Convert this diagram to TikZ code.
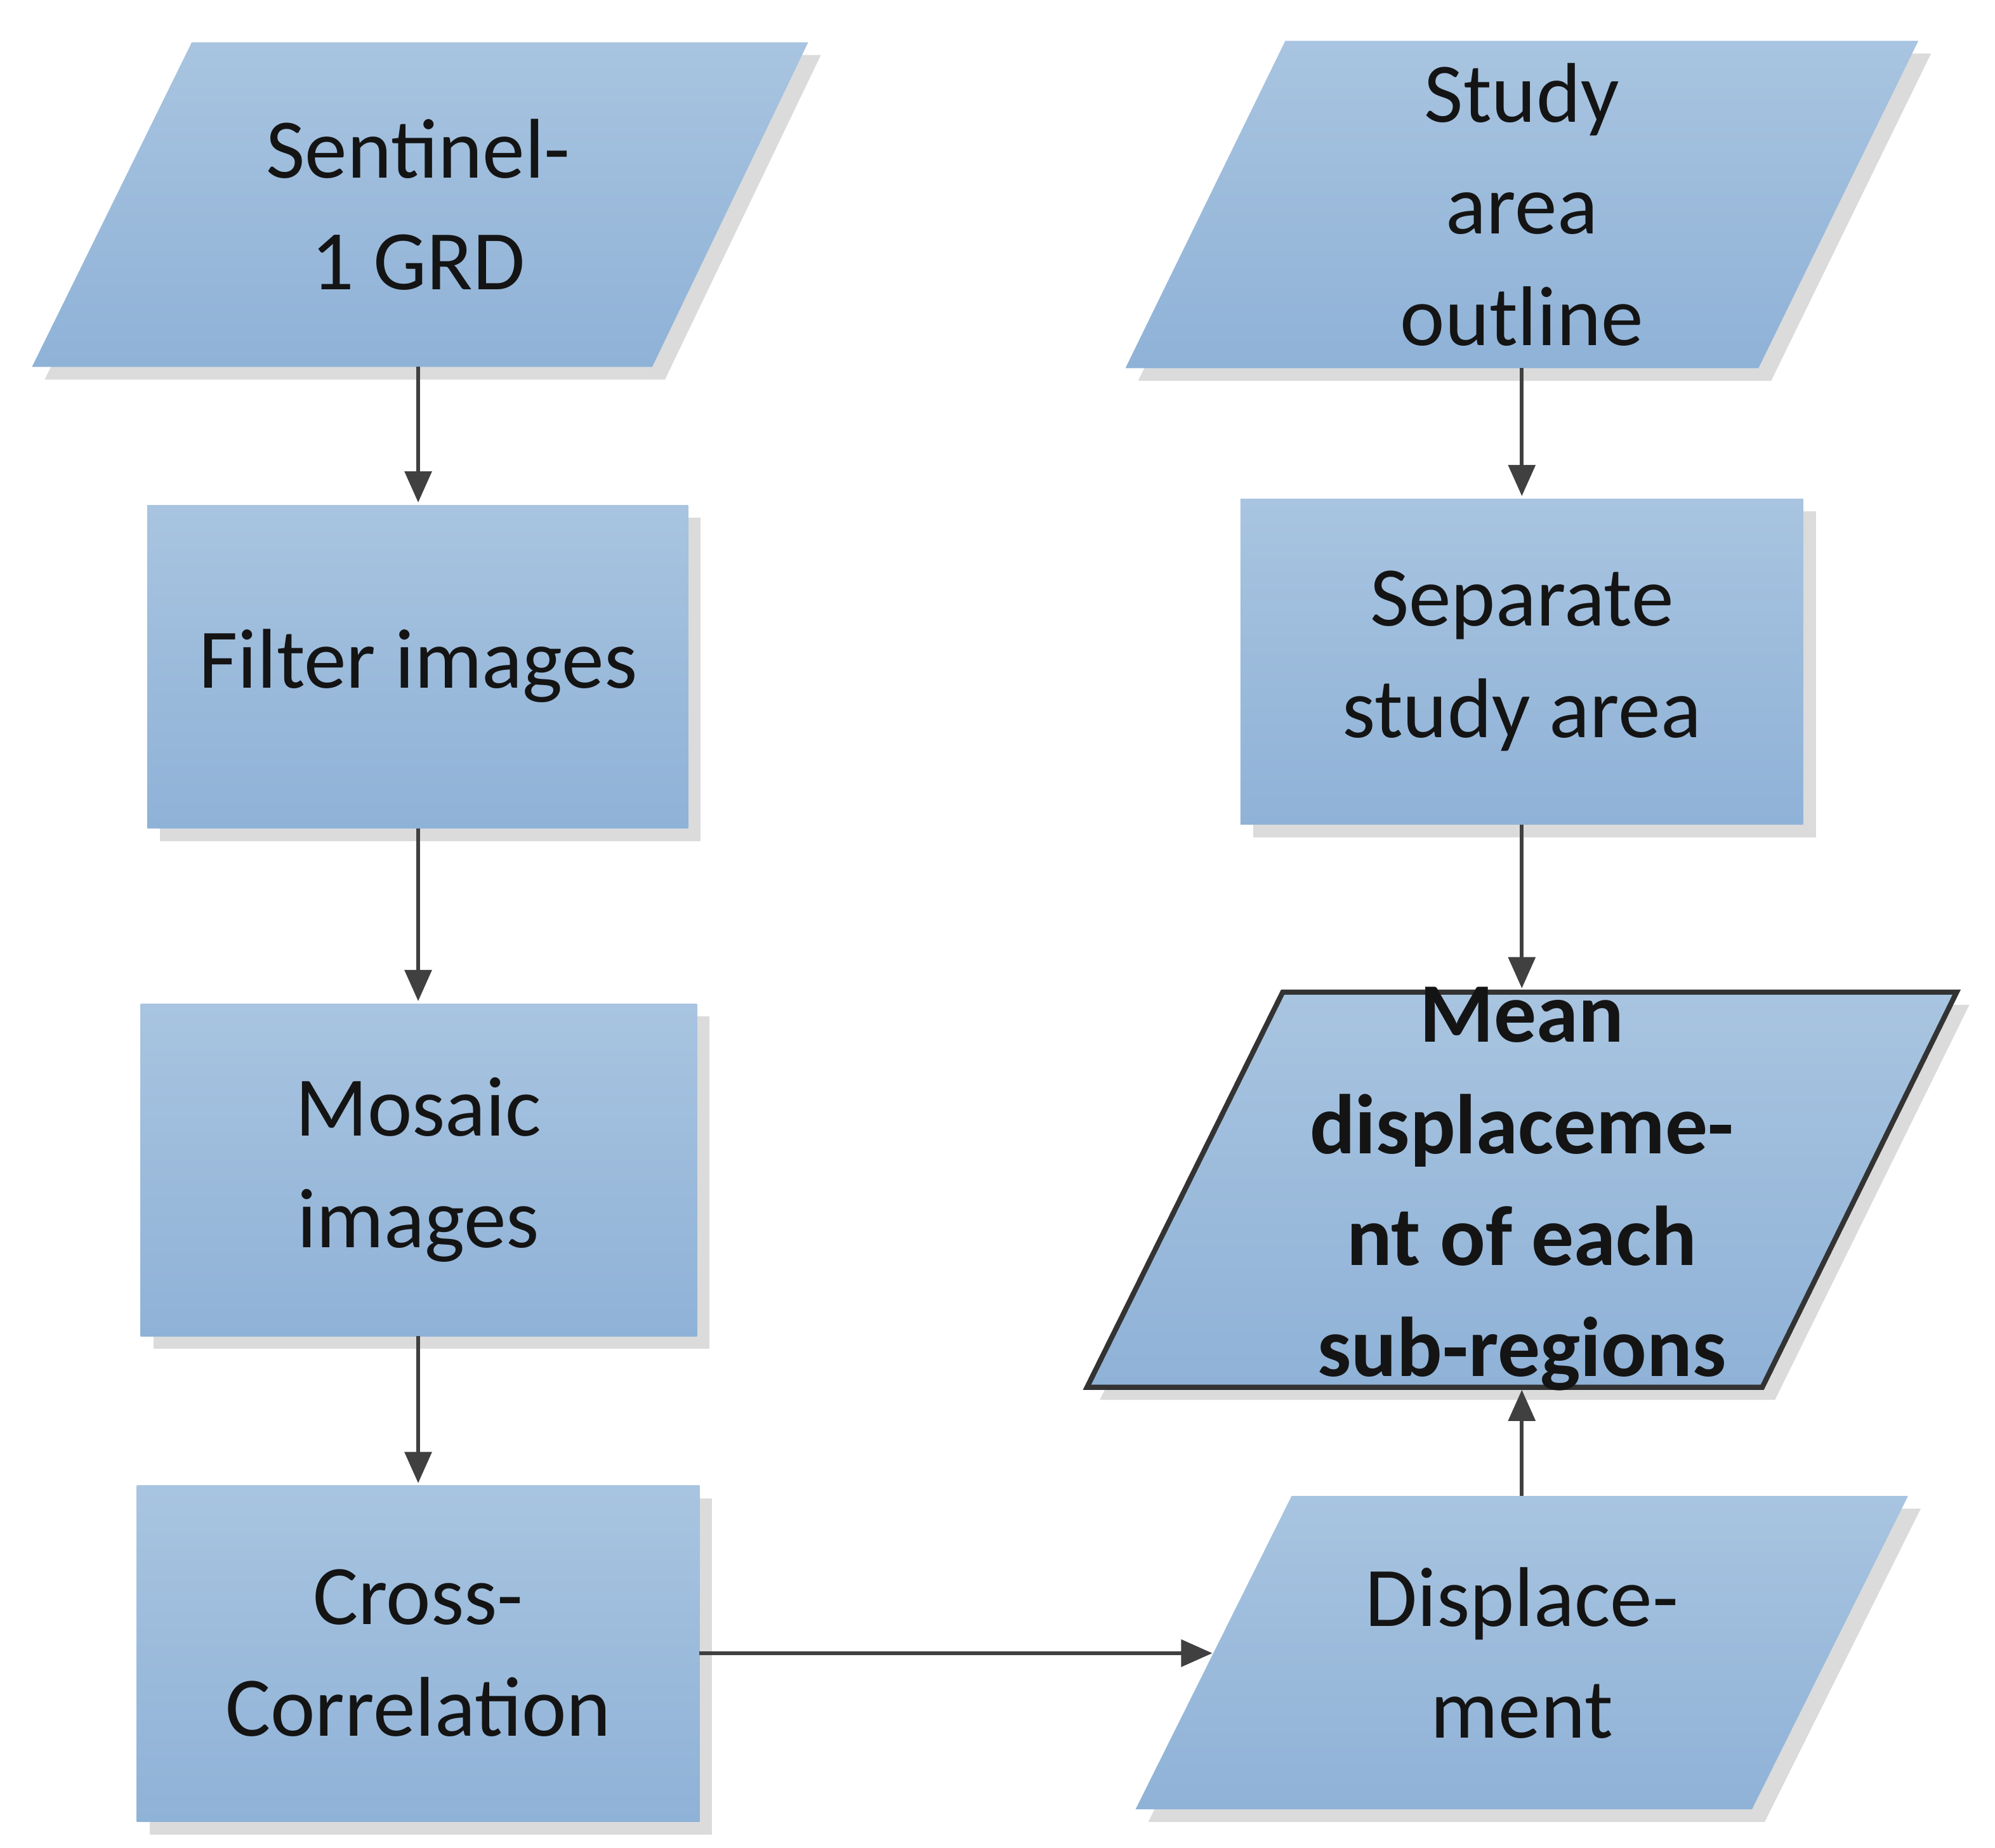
\documentclass[tikz,border=0pt]{standalone}
\usepackage{fontspec}
\setmainfont{Carlito}
\usetikzlibrary{arrows.meta,shadows}
\begin{document}
\begin{tikzpicture}[x=0.2015mm,y=-0.2015mm,
  box/.style={top color=blue1,bottom color=blue2,draw=none,
    drop shadow={shadow xshift=2mm,shadow yshift=-2mm,fill=black!14,opacity=1}},
  txt/.style={align=center,font=\fontsize{38}{50}\selectfont,text=black!92},
  arr/.style={draw=black!75,line width=1.7pt,-{Triangle[length=14pt,width=12pt]}}]
\definecolor{blue1}{HTML}{A8C4E0}
\definecolor{blue2}{HTML}{8FB2D7}
\useasboundingbox (0,0) rectangle (1560,1445);
% shapes
\path[box] (150,33) -- (632,33) -- (510,287) -- (25,287) -- cycle;
\path[box] (115,395) rectangle (538,648);
\path[box] (110,785) rectangle (545,1045);
\path[box] (107,1162) rectangle (547,1425);
\path[box] (1005,32) -- (1500,32) -- (1375,288) -- (880,288) -- cycle;
\path[box] (970,390) rectangle (1410,645);
\path[box] (1010,1170) -- (1492,1170) -- (1370,1415) -- (888,1415) -- cycle;
\path[box,draw=black!80,line width=2.3pt] (1003,776) -- (1530,776) -- (1378,1085) -- (850,1085) -- cycle;
% texts
\node[txt] (s1) at (327,160) {Sentinel-\\1 GRD};
\node[txt] (fi) at (327,521) {Filter images};
\node[txt] (mo) at (327,915) {Mosaic\\images};
\node[txt] (cc) at (327,1293) {Cross-\\Correlation};
\node[txt] (sa) at (1190,160) {Study\\area\\outline};
\node[txt] (se) at (1190,517) {Separate\\study area};
\node[txt] (di) at (1190,1293) {Displace-\\ment};
\node[txt,font=\bfseries\fontsize{38}{50}\selectfont] (me) at (1190,930) {Mean\\displaceme-\\nt of each\\sub-regions};
% connector ends
\coordinate (a1) at (327,287); \coordinate (b1) at (327,393);
\coordinate (a2) at (327,648); \coordinate (b2) at (327,783);
\coordinate (a3) at (327,1045); \coordinate (b3) at (327,1160);
\coordinate (a4) at (1190,288); \coordinate (b4) at (1190,388);
\coordinate (a5) at (1190,645); \coordinate (b5) at (1190,773);
\coordinate (a6) at (1190,1170); \coordinate (b6) at (1190,1087);
\coordinate (a7) at (547,1293); \coordinate (b7) at (948,1293);
\foreach \i in {1,...,7}{\draw[arr] (a\i) -- (b\i);}
\end{tikzpicture}
\end{document}
